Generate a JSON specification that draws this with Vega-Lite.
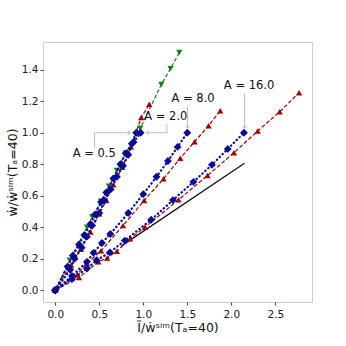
{
  "$schema": "https://vega.github.io/schema/vega-lite/v6.json",
  "width": 269,
  "height": 260,
  "autosize": {"type": "none"},
  "padding": {"left": 43, "top": 42, "right": 34, "bottom": 44},
  "config": {
    "view": {"stroke": "#cccccc", "strokeWidth": 1},
    "font": "DejaVu Sans",
    "axis": {"domain": false, "grid": false, "tickColor": "#444444", "tickSize": 3, "labelFontSize": 10.5, "labelColor": "#1a1a1a", "titleFontSize": 12.5, "titleFontWeight": "normal", "titleColor": "#111111"}
  },
  "datasets": {
    "pts": [
      {"s": "g05", "c": "green", "x": 0, "y": 0}, {"s": "g05", "c": "green", "x": 0.165, "y": 0.19}, {"s": "g05", "c": "green", "x": 0.36, "y": 0.4}, {"s": "g05", "c": "green", "x": 0.42, "y": 0.465}, {"s": "g05", "c": "green", "x": 0.52, "y": 0.565}, {"s": "g05", "c": "green", "x": 0.61, "y": 0.66}, {"s": "g05", "c": "green", "x": 0.7, "y": 0.76}, {"s": "g05", "c": "green", "x": 0.8, "y": 0.87}, {"s": "g05", "c": "green", "x": 0.966, "y": 1.028}, {"s": "g05", "c": "green", "x": 1.205, "y": 1.306}, {"s": "g05", "c": "green", "x": 1.31, "y": 1.407}, {"s": "g05", "c": "green", "x": 1.41, "y": 1.509},
      {"s": "r2", "c": "red", "x": 0, "y": 0}, {"s": "r2", "c": "red", "x": 0.18, "y": 0.16}, {"s": "r2", "c": "red", "x": 0.29, "y": 0.26}, {"s": "r2", "c": "red", "x": 0.4, "y": 0.37}, {"s": "r2", "c": "red", "x": 0.5, "y": 0.485}, {"s": "r2", "c": "red", "x": 0.58, "y": 0.57}, {"s": "r2", "c": "red", "x": 0.66, "y": 0.67}, {"s": "r2", "c": "red", "x": 0.76, "y": 0.78}, {"s": "r2", "c": "red", "x": 0.86, "y": 0.91}, {"s": "r2", "c": "red", "x": 0.977, "y": 1.097}, {"s": "r2", "c": "red", "x": 1.068, "y": 1.18},
      {"s": "r8", "c": "red", "x": 0, "y": 0}, {"s": "r8", "c": "red", "x": 0.25, "y": 0.1}, {"s": "r8", "c": "red", "x": 0.36, "y": 0.17}, {"s": "r8", "c": "red", "x": 0.52, "y": 0.25}, {"s": "r8", "c": "red", "x": 0.77, "y": 0.41}, {"s": "r8", "c": "red", "x": 1.01, "y": 0.57}, {"s": "r8", "c": "red", "x": 1.23, "y": 0.707}, {"s": "r8", "c": "red", "x": 1.42, "y": 0.838}, {"s": "r8", "c": "red", "x": 1.583, "y": 0.943}, {"s": "r8", "c": "red", "x": 1.742, "y": 1.044}, {"s": "r8", "c": "red", "x": 1.875, "y": 1.14},
      {"s": "r16", "c": "red", "x": 0, "y": 0}, {"s": "r16", "c": "red", "x": 0.27, "y": 0.08}, {"s": "r16", "c": "red", "x": 0.49, "y": 0.18}, {"s": "r16", "c": "red", "x": 0.59, "y": 0.205}, {"s": "r16", "c": "red", "x": 0.7, "y": 0.247}, {"s": "r16", "c": "red", "x": 0.85, "y": 0.327}, {"s": "r16", "c": "red", "x": 1.02, "y": 0.4}, {"s": "r16", "c": "red", "x": 1.4, "y": 0.574}, {"s": "r16", "c": "red", "x": 1.73, "y": 0.728}, {"s": "r16", "c": "red", "x": 2.03, "y": 0.873}, {"s": "r16", "c": "red", "x": 2.3, "y": 1.011}, {"s": "r16", "c": "red", "x": 2.55, "y": 1.133}, {"s": "r16", "c": "red", "x": 2.77, "y": 1.254},
      {"s": "b05", "c": "blue", "x": 0, "y": 0}, {"s": "b05", "c": "blue", "x": 0.14, "y": 0.15}, {"s": "b05", "c": "blue", "x": 0.2, "y": 0.22}, {"s": "b05", "c": "blue", "x": 0.27, "y": 0.29}, {"s": "b05", "c": "blue", "x": 0.33, "y": 0.35}, {"s": "b05", "c": "blue", "x": 0.4, "y": 0.42}, {"s": "b05", "c": "blue", "x": 0.45, "y": 0.48}, {"s": "b05", "c": "blue", "x": 0.52, "y": 0.56}, {"s": "b05", "c": "blue", "x": 0.58, "y": 0.62}, {"s": "b05", "c": "blue", "x": 0.66, "y": 0.71}, {"s": "b05", "c": "blue", "x": 0.74, "y": 0.8}, {"s": "b05", "c": "blue", "x": 0.8, "y": 0.87}, {"s": "b05", "c": "blue", "x": 0.87, "y": 0.93}, {"s": "b05", "c": "blue", "x": 0.92, "y": 1.0},
      {"s": "b2", "c": "blue", "x": 0, "y": 0}, {"s": "b2", "c": "blue", "x": 0.17, "y": 0.13}, {"s": "b2", "c": "blue", "x": 0.22, "y": 0.2}, {"s": "b2", "c": "blue", "x": 0.3, "y": 0.27}, {"s": "b2", "c": "blue", "x": 0.36, "y": 0.34}, {"s": "b2", "c": "blue", "x": 0.42, "y": 0.41}, {"s": "b2", "c": "blue", "x": 0.5, "y": 0.49}, {"s": "b2", "c": "blue", "x": 0.56, "y": 0.57}, {"s": "b2", "c": "blue", "x": 0.63, "y": 0.64}, {"s": "b2", "c": "blue", "x": 0.7, "y": 0.72}, {"s": "b2", "c": "blue", "x": 0.77, "y": 0.79}, {"s": "b2", "c": "blue", "x": 0.83, "y": 0.86}, {"s": "b2", "c": "blue", "x": 0.89, "y": 0.94}, {"s": "b2", "c": "blue", "x": 0.97, "y": 1.0},
      {"s": "b8", "c": "blue", "x": 0, "y": 0}, {"s": "b8", "c": "blue", "x": 0.19, "y": 0.09}, {"s": "b8", "c": "blue", "x": 0.36, "y": 0.18}, {"s": "b8", "c": "blue", "x": 0.435, "y": 0.237}, {"s": "b8", "c": "blue", "x": 0.53, "y": 0.3}, {"s": "b8", "c": "blue", "x": 0.625, "y": 0.357}, {"s": "b8", "c": "blue", "x": 0.83, "y": 0.49}, {"s": "b8", "c": "blue", "x": 1.0, "y": 0.61}, {"s": "b8", "c": "blue", "x": 1.15, "y": 0.72}, {"s": "b8", "c": "blue", "x": 1.28, "y": 0.82}, {"s": "b8", "c": "blue", "x": 1.39, "y": 0.91}, {"s": "b8", "c": "blue", "x": 1.5, "y": 1.0},
      {"s": "b16", "c": "blue", "x": 0, "y": 0}, {"s": "b16", "c": "blue", "x": 0.19, "y": 0.07}, {"s": "b16", "c": "blue", "x": 0.36, "y": 0.137}, {"s": "b16", "c": "blue", "x": 0.47, "y": 0.19}, {"s": "b16", "c": "blue", "x": 0.62, "y": 0.24}, {"s": "b16", "c": "blue", "x": 0.79, "y": 0.315}, {"s": "b16", "c": "blue", "x": 1.09, "y": 0.447}, {"s": "b16", "c": "blue", "x": 1.337, "y": 0.572}, {"s": "b16", "c": "blue", "x": 1.57, "y": 0.688}, {"s": "b16", "c": "blue", "x": 1.78, "y": 0.796}, {"s": "b16", "c": "blue", "x": 1.96, "y": 0.897}, {"s": "b16", "c": "blue", "x": 2.144, "y": 1.0}
    ],
    "ref": [{"x": 0.75, "y": 0.28}, {"x": 2.15, "y": 0.806}],
    "arrows": [
      {"x": 0.447, "y": 0.9, "x2": 0.447, "y2": 1.0}, {"x": 0.447, "y": 1.0, "x2": 0.852, "y2": 1.0},
      {"x": 1.269, "y": 1.055, "x2": 1.269, "y2": 1.0}, {"x": 1.269, "y": 1.0, "x2": 1.031, "y2": 1.0},
      {"x": 1.503, "y": 1.169, "x2": 1.503, "y2": 1.028},
      {"x": 2.151, "y": 1.249, "x2": 2.151, "y2": 1.028}
    ],
    "heads": [
      {"x": 0.852, "y": 1.0, "d": "r"}, {"x": 1.031, "y": 1.0, "d": "l"}, {"x": 1.503, "y": 1.028, "d": "d"}, {"x": 2.151, "y": 1.028, "d": "d"}
    ],
    "labels": [
      {"x": 0.443, "y": 0.865, "t": "A = 0.5"}, {"x": 1.256, "y": 1.101, "t": "A = 2.0"}, {"x": 1.566, "y": 1.211, "t": "A = 8.0"}, {"x": 2.202, "y": 1.296, "t": "A = 16.0"}
    ]
  },
  "encoding": {
    "x": {"field": "x", "type": "quantitative", "scale": {"domain": [-0.139, 2.917], "nice": false, "zero": false}, "axis": {"values": [0, 0.5, 1, 1.5, 2, 2.5], "format": ".1f", "labelPadding": 4, "title": "Ĩ/ẇˢⁱᵐ(Tₐ=40)", "titlePadding": 2}},
    "y": {"field": "y", "type": "quantitative", "scale": {"domain": [-0.075, 1.576], "nice": false, "zero": false}, "axis": {"values": [0, 0.2, 0.4, 0.6, 0.8, 1.0, 1.2, 1.4], "format": ".1f", "labelPadding": 2, "title": "ẇ/ẇˢⁱᵐ(Tₐ=40)", "titlePadding": 2}}
  },
  "layer": [
    {"data": {"name": "ref"}, "mark": {"type": "line", "color": "#111111", "strokeWidth": 1.3}, "encoding": {}},
    {"data": {"name": "pts"}, "transform": [{"filter": "datum.c != 'blue'"}], "mark": {"type": "line", "strokeWidth": 1.2, "strokeDash": [4, 2]},
     "encoding": {"detail": {"field": "s"}, "color": {"field": "c", "type": "nominal", "scale": {"domain": ["green", "red", "blue"], "range": ["#1a7f1a", "#a00000", "#0a0a96"]}, "legend": null}}},
    {"data": {"name": "pts"}, "transform": [{"filter": "datum.c == 'green'"}], "mark": {"type": "point", "shape": "triangle-down", "filled": true, "size": 40, "opacity": 1, "color": "#1a7f1a"}},
    {"data": {"name": "pts"}, "transform": [{"filter": "datum.c == 'red'"}], "mark": {"type": "point", "shape": "triangle-up", "filled": true, "size": 40, "opacity": 1, "color": "#a00000"}},
    {"data": {"name": "pts"}, "transform": [{"filter": "datum.c == 'blue'"}], "mark": {"type": "line", "strokeWidth": 2.2, "strokeDash": [0.5, 3.5], "strokeCap": "round", "color": "#0a0a96"},
     "encoding": {"detail": {"field": "s"}}},
    {"data": {"name": "pts"}, "transform": [{"filter": "datum.c == 'blue'"}], "mark": {"type": "point", "shape": "diamond", "filled": true, "size": 62, "opacity": 1, "color": "#0a0a96"}},
    {"data": {"name": "arrows"}, "mark": {"type": "rule", "color": "#bbbbbb", "strokeWidth": 1}, "encoding": {"x2": {"field": "x2"}, "y2": {"field": "y2"}}},
    {"data": {"name": "heads"}, "transform": [{"filter": "datum.d == 'r'"}], "mark": {"type": "point", "shape": "M-1,-0.7L0,0L-1,0.7", "filled": false, "size": 30, "stroke": "#bbbbbb", "strokeWidth": 1, "opacity": 1}},
    {"data": {"name": "heads"}, "transform": [{"filter": "datum.d == 'l'"}], "mark": {"type": "point", "shape": "M1,-0.7L0,0L1,0.7", "filled": false, "size": 30, "stroke": "#bbbbbb", "strokeWidth": 1, "opacity": 1}},
    {"data": {"name": "heads"}, "transform": [{"filter": "datum.d == 'd'"}], "mark": {"type": "point", "shape": "M-0.7,-1L0,0L0.7,-1", "filled": false, "size": 30, "stroke": "#bbbbbb", "strokeWidth": 1, "opacity": 1}},
    {"data": {"name": "labels"}, "mark": {"type": "text", "fontSize": 11.5, "color": "#111111", "align": "center", "baseline": "middle"}, "encoding": {"text": {"field": "t"}}}
  ]
}
